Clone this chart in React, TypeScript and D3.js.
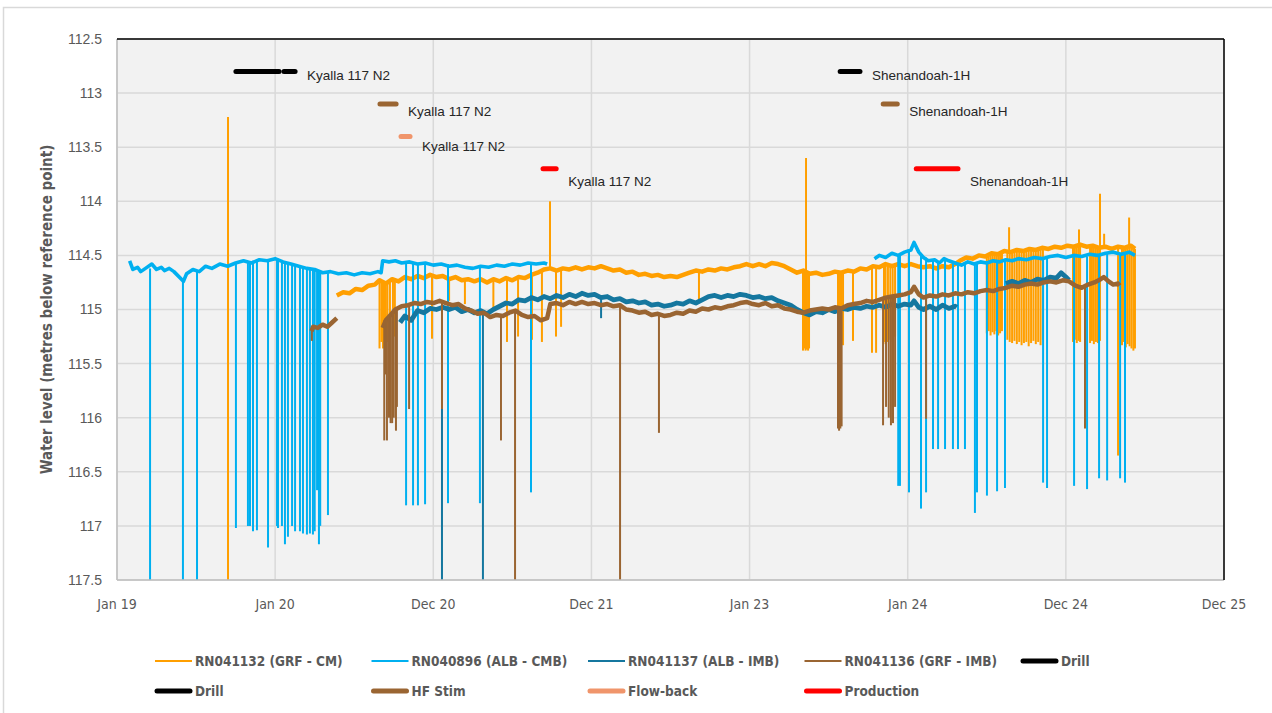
import React from 'react';
import * as d3 from 'd3';

type Pt = [number, number];
type Spike = [number, number, number];

// axis ticks
const yTicks = [112.5, 113, 113.5, 114, 114.5, 115, 115.5, 116, 116.5, 117, 117.5];
const xTickYears = [2019, 2020, 2021, 2022, 2023, 2024, 2025, 2026];
const xTickLabels = ['Jan 19', 'Jan 20', 'Dec 20', 'Dec 21', 'Jan 23', 'Jan 24', 'Dec 24', 'Dec 25'];

// RN041132 (GRF - CM)  [decimal year, m below ref]
const rn041132Level: Pt[] = [
  [2020.39, 114.87], [2020.43, 114.84], [2020.47, 114.85], [2020.51, 114.81], [2020.55, 114.82],
  [2020.59, 114.78], [2020.63, 114.77], [2020.66, 114.73], [2020.70, 114.76], [2020.74, 114.72],
  [2020.78, 114.74], [2020.82, 114.70], [2020.86, 114.72], [2020.90, 114.69], [2020.94, 114.71],
  [2020.98, 114.68], [2021.02, 114.70], [2021.06, 114.69], [2021.10, 114.72], [2021.14, 114.70],
  [2021.18, 114.73], [2021.22, 114.72], [2021.26, 114.74], [2021.30, 114.72], [2021.34, 114.75],
  [2021.38, 114.72], [2021.42, 114.74], [2021.46, 114.71], [2021.50, 114.73], [2021.54, 114.70],
  [2021.58, 114.71], [2021.62, 114.68], [2021.66, 114.66], [2021.70, 114.63], [2021.74, 114.62],
  [2021.78, 114.64], [2021.82, 114.62], [2021.86, 114.63], [2021.90, 114.61], [2021.94, 114.63],
  [2021.98, 114.61], [2022.02, 114.62], [2022.06, 114.60], [2022.10, 114.62], [2022.14, 114.64],
  [2022.18, 114.63], [2022.22, 114.66], [2022.26, 114.65], [2022.30, 114.68], [2022.34, 114.67],
  [2022.38, 114.69], [2022.42, 114.68], [2022.46, 114.70], [2022.50, 114.69], [2022.54, 114.70],
  [2022.58, 114.68], [2022.62, 114.66], [2022.66, 114.64], [2022.70, 114.65], [2022.74, 114.63],
  [2022.78, 114.64], [2022.82, 114.62], [2022.86, 114.63], [2022.90, 114.61], [2022.94, 114.60],
  [2022.98, 114.58], [2023.02, 114.60], [2023.06, 114.58], [2023.10, 114.60], [2023.14, 114.57],
  [2023.18, 114.58], [2023.22, 114.60], [2023.26, 114.63], [2023.30, 114.66], [2023.34, 114.64],
  [2023.38, 114.67], [2023.42, 114.66], [2023.46, 114.68], [2023.50, 114.67], [2023.54, 114.65],
  [2023.58, 114.66], [2023.62, 114.64], [2023.66, 114.65], [2023.70, 114.62], [2023.74, 114.63],
  [2023.78, 114.60], [2023.82, 114.61], [2023.86, 114.58], [2023.90, 114.60], [2023.94, 114.58],
  [2023.98, 114.60], [2024.02, 114.58], [2024.06, 114.60], [2024.10, 114.61], [2024.14, 114.60],
  [2024.18, 114.62], [2024.22, 114.60], [2024.26, 114.61], [2024.30, 114.58], [2024.33, 114.55],
  [2024.37, 114.52], [2024.41, 114.53], [2024.45, 114.50], [2024.49, 114.51], [2024.53, 114.48],
  [2024.57, 114.49], [2024.61, 114.46], [2024.65, 114.47], [2024.69, 114.45], [2024.73, 114.46],
  [2024.77, 114.44], [2024.81, 114.45], [2024.85, 114.43], [2024.89, 114.44], [2024.93, 114.42],
  [2024.97, 114.43], [2025.01, 114.41], [2025.05, 114.42], [2025.09, 114.40], [2025.13, 114.42],
  [2025.17, 114.41], [2025.21, 114.43], [2025.25, 114.42], [2025.29, 114.44], [2025.33, 114.42],
  [2025.37, 114.43], [2025.41, 114.41], [2025.437, 114.44],
];
// [year, from, to] short excursions
const rn041132Spikes: Spike[] = [
  [2019.702, 113.22, 118.0],
  [2020.66, 114.75, 115.36], [2020.672, 114.74, 115.30], [2020.682, 114.73, 115.36], [2020.69, 114.74, 115.33],
  [2020.70, 114.75, 115.36], [2020.71, 114.76, 115.30], [2020.726, 114.74, 115.20], [2020.745, 114.72, 115.20],
  [2020.757, 114.73, 115.25], [2020.992, 114.69, 115.27], [2021.10, 114.72, 114.92], [2021.20, 114.73, 114.95],
  [2021.38, 114.72, 115.00], [2021.466, 114.71, 115.30], [2021.536, 114.72, 115.25], [2021.624, 114.68, 115.28],
  [2021.687, 114.64, 115.30], [2021.738, 114.62, 114.00], [2021.776, 114.64, 115.25], [2021.808, 114.62, 115.16],
  [2022.68, 114.65, 114.92],
  [2023.338, 114.64, 115.38], [2023.346, 114.64, 115.36], [2023.354, 114.64, 115.38], [2023.357, 114.64, 113.60],
  [2023.362, 114.65, 115.37], [2023.370, 114.65, 115.38], [2023.376, 114.65, 115.36],
  [2023.559, 114.65, 115.33], [2023.566, 114.65, 115.31], [2023.574, 114.65, 115.33], [2023.582, 114.65, 115.30],
  [2023.591, 114.64, 115.33], [2023.654, 114.65, 115.29], [2023.774, 114.60, 115.40],
  [2023.80, 114.61, 115.40], [2023.85, 114.58, 115.30], [2023.86, 114.58, 115.32], [2023.875, 114.59, 115.30],
  [2023.89, 114.60, 115.28], [2023.905, 114.60, 115.30], [2023.92, 114.59, 115.25],
  [2024.500, 114.51, 115.22], [2024.512, 114.51, 115.20], [2024.524, 114.50, 115.24], [2024.536, 114.49, 115.21],
  [2024.548, 114.48, 115.23], [2024.560, 114.49, 115.20], [2024.572, 114.49, 115.24], [2024.584, 114.48, 115.22],
  [2024.596, 114.47, 115.20],
  [2024.630, 114.46, 115.28], [2024.641, 114.47, 114.24], [2024.645, 114.47, 115.30], [2024.660, 114.46, 115.31],
  [2024.675, 114.45, 115.29], [2024.690, 114.45, 115.32], [2024.705, 114.45, 115.30], [2024.720, 114.46, 115.33],
  [2024.735, 114.45, 115.31], [2024.750, 114.44, 115.30], [2024.765, 114.44, 115.34], [2024.780, 114.44, 115.31],
  [2024.795, 114.45, 115.29], [2024.810, 114.45, 115.32], [2024.825, 114.44, 115.30], [2024.840, 114.43, 115.33],
  [2024.855, 114.43, 115.28],
  [2025.045, 114.42, 115.30], [2025.057, 114.42, 115.28], [2025.069, 114.41, 115.31], [2025.081, 114.41, 115.29],
  [2025.083, 114.41, 114.26], [2025.090, 114.40, 115.30],
  [2025.153, 114.41, 115.31], [2025.165, 114.41, 115.29], [2025.177, 114.41, 115.32], [2025.190, 114.42, 115.30],
  [2025.203, 114.42, 115.31], [2025.216, 114.43, 115.29], [2025.216, 114.43, 113.93], [2025.242, 114.42, 114.30],
  [2025.330, 114.42, 116.35],
  [2025.355, 114.42, 115.33], [2025.367, 114.43, 115.30], [2025.379, 114.43, 115.35], [2025.391, 114.42, 115.32],
  [2025.400, 114.41, 114.15], [2025.403, 114.41, 115.34], [2025.415, 114.41, 115.36], [2025.427, 114.42, 115.38],
  [2025.437, 114.44, 115.36],
];

// RN040896 (ALB - CMB)
const rn040896LevelA: Pt[] = [
  [2019.08, 114.55], [2019.10, 114.63], [2019.13, 114.61], [2019.15, 114.65], [2019.18, 114.62],
  [2019.22, 114.58], [2019.25, 114.63], [2019.28, 114.61], [2019.30, 114.64], [2019.33, 114.62],
  [2019.36, 114.65], [2019.42, 114.74], [2019.44, 114.67], [2019.48, 114.63], [2019.52, 114.65],
  [2019.56, 114.60], [2019.60, 114.62], [2019.65, 114.58], [2019.70, 114.60], [2019.75, 114.57],
  [2019.80, 114.55], [2019.85, 114.57], [2019.90, 114.54], [2019.95, 114.55], [2020.00, 114.53],
  [2020.05, 114.56], [2020.10, 114.58], [2020.15, 114.60], [2020.20, 114.62], [2020.25, 114.63],
  [2020.30, 114.66], [2020.35, 114.65], [2020.40, 114.67], [2020.45, 114.66], [2020.50, 114.68],
  [2020.55, 114.66], [2020.60, 114.67], [2020.65, 114.65], [2020.67, 114.66], [2020.68, 114.55],
  [2020.72, 114.56], [2020.76, 114.55], [2020.80, 114.57], [2020.85, 114.56], [2020.90, 114.58],
  [2020.95, 114.57], [2021.00, 114.59], [2021.05, 114.58], [2021.10, 114.60], [2021.15, 114.59],
  [2021.20, 114.61], [2021.25, 114.62], [2021.30, 114.60], [2021.35, 114.61], [2021.40, 114.59],
  [2021.45, 114.60], [2021.50, 114.58], [2021.55, 114.59], [2021.60, 114.57], [2021.65, 114.58],
  [2021.70, 114.57], [2021.72, 114.58],
];
const rn040896LevelB: Pt[] = [
  [2023.79, 114.53], [2023.82, 114.50], [2023.86, 114.52], [2023.90, 114.48], [2023.94, 114.50],
  [2023.98, 114.47], [2024.02, 114.45], [2024.04, 114.38], [2024.07, 114.47], [2024.10, 114.52],
  [2024.13, 114.55], [2024.17, 114.54], [2024.20, 114.57], [2024.23, 114.53], [2024.26, 114.55],
  [2024.30, 114.57], [2024.34, 114.59], [2024.38, 114.56], [2024.42, 114.58], [2024.46, 114.56],
  [2024.50, 114.57], [2024.54, 114.55], [2024.58, 114.56], [2024.62, 114.54], [2024.66, 114.55],
  [2024.70, 114.53], [2024.75, 114.54], [2024.80, 114.52], [2024.85, 114.53], [2024.90, 114.51],
  [2024.95, 114.50], [2025.00, 114.52], [2025.05, 114.50], [2025.10, 114.51], [2025.15, 114.49],
  [2025.20, 114.50], [2025.25, 114.48], [2025.30, 114.47], [2025.35, 114.49], [2025.40, 114.47],
  [2025.437, 114.50],
];
const rn040896Spikes: Spike[] = [
  [2019.209, 114.62, 118.0], [2019.417, 114.72, 118.0], [2019.506, 114.64, 118.0],
  [2019.752, 114.57, 117.02], [2019.828, 114.56, 117.00], [2019.841, 114.56, 117.00], [2019.860, 114.55, 117.05],
  [2019.885, 114.56, 117.04], [2019.955, 114.55, 117.20], [2020.012, 114.53, 117.00], [2020.018, 114.53, 117.02],
  [2020.043, 114.55, 117.00], [2020.062, 114.56, 117.17], [2020.081, 114.57, 117.10], [2020.107, 114.58, 117.00],
  [2020.126, 114.58, 117.05], [2020.157, 114.60, 117.05], [2020.176, 114.60, 117.07], [2020.201, 114.61, 117.08],
  [2020.220, 114.62, 117.07], [2020.239, 114.62, 117.08], [2020.250, 114.63, 117.05], [2020.265, 114.63, 116.67],
  [2020.277, 114.64, 117.17], [2020.285, 114.64, 117.00], [2020.334, 114.65, 116.90],
  [2020.828, 114.57, 116.81], [2020.872, 114.56, 116.81], [2020.903, 114.57, 116.81], [2020.948, 114.57, 116.80],
  [2021.093, 114.58, 116.79], [2021.295, 114.61, 116.79], [2021.618, 114.57, 116.69],
  [2023.940, 114.50, 116.63], [2023.951, 114.50, 116.63], [2024.008, 114.46, 116.69], [2024.084, 114.50, 116.84],
  [2024.116, 114.52, 116.69], [2024.160, 114.54, 116.29], [2024.192, 114.56, 116.29], [2024.236, 114.54, 116.29],
  [2024.286, 114.56, 116.29], [2024.318, 114.57, 116.29], [2024.362, 114.58, 116.29], [2024.425, 114.58, 116.88],
  [2024.438, 114.58, 116.69], [2024.501, 114.57, 116.72], [2024.565, 114.56, 116.68], [2024.615, 114.54, 116.65],
  [2024.856, 114.52, 116.60], [2024.881, 114.51, 116.65], [2025.052, 114.50, 116.63], [2025.134, 114.51, 116.66],
  [2025.210, 114.50, 116.56], [2025.261, 114.48, 116.58], [2025.343, 114.48, 116.56], [2025.374, 114.49, 116.60],
];

// RN041137 (ALB - IMB)
const rn041137LevelA: Pt[] = [
  [2020.79, 115.12], [2020.82, 115.06], [2020.86, 115.10], [2020.90, 115.01], [2020.94, 115.03],
  [2020.98, 114.99], [2021.02, 115.00], [2021.06, 114.98], [2021.10, 115.00], [2021.14, 114.98],
  [2021.18, 115.02], [2021.22, 115.00], [2021.26, 115.03], [2021.30, 115.01], [2021.34, 115.04],
  [2021.38, 115.00], [2021.42, 114.97], [2021.46, 114.94], [2021.50, 114.95], [2021.54, 114.91],
  [2021.58, 114.92], [2021.62, 114.89], [2021.66, 114.91], [2021.70, 114.88], [2021.74, 114.90],
  [2021.78, 114.87], [2021.82, 114.89], [2021.86, 114.86], [2021.90, 114.88], [2021.94, 114.85],
  [2021.98, 114.87], [2022.02, 114.86], [2022.06, 114.89], [2022.10, 114.88], [2022.14, 114.91],
  [2022.18, 114.90], [2022.22, 114.93], [2022.26, 114.92], [2022.30, 114.94], [2022.34, 114.93],
  [2022.38, 114.96], [2022.42, 114.95], [2022.46, 114.97], [2022.50, 114.96], [2022.54, 114.94],
  [2022.58, 114.95], [2022.62, 114.92], [2022.66, 114.94], [2022.70, 114.91], [2022.74, 114.88],
  [2022.78, 114.87], [2022.82, 114.89], [2022.86, 114.87], [2022.90, 114.88], [2022.94, 114.86],
  [2022.98, 114.87], [2023.02, 114.89], [2023.06, 114.88], [2023.10, 114.90], [2023.14, 114.89],
  [2023.18, 114.92], [2023.22, 114.94], [2023.26, 114.96], [2023.30, 115.00], [2023.34, 115.03],
  [2023.38, 115.05], [2023.42, 115.02], [2023.46, 115.03], [2023.50, 115.00], [2023.54, 115.02],
  [2023.58, 114.99], [2023.62, 115.00], [2023.66, 114.98], [2023.70, 114.99], [2023.74, 114.97],
  [2023.78, 114.98], [2023.82, 114.96], [2023.86, 114.98], [2023.90, 114.95], [2023.94, 114.97],
  [2023.98, 114.95], [2024.02, 114.96], [2024.04, 114.92], [2024.07, 114.98], [2024.10, 115.00],
  [2024.14, 114.97], [2024.18, 115.00], [2024.22, 114.96], [2024.26, 114.99], [2024.30, 114.97],
  [2024.31, 114.98],
];
const rn041137LevelB: Pt[] = [
  [2024.62, 114.76], [2024.66, 114.74], [2024.70, 114.76], [2024.74, 114.73], [2024.78, 114.75],
  [2024.82, 114.72], [2024.86, 114.73], [2024.90, 114.70], [2024.94, 114.71], [2024.97, 114.66],
  [2025.00, 114.70], [2025.02, 114.73],
];
const rn041137Spikes: Spike[] = [
  [2021.055, 114.98, 118.0], [2021.314, 115.02, 118.0], [2022.061, 114.88, 115.08],
];

// RN041136 (GRF - IMB)
const rn041136LevelA: Pt[] = [
  [2020.23, 115.20], [2020.24, 115.16], [2020.27, 115.17], [2020.30, 115.14], [2020.33, 115.16],
  [2020.36, 115.12], [2020.39, 115.08],
];
const rn041136LevelB: Pt[] = [
  [2020.68, 115.17], [2020.70, 115.10], [2020.73, 115.05], [2020.76, 115.00], [2020.80, 114.97],
  [2020.84, 114.96], [2020.88, 114.94], [2020.92, 114.95], [2020.96, 114.93], [2021.00, 114.94],
  [2021.04, 114.92], [2021.08, 114.94], [2021.12, 114.96], [2021.16, 114.95], [2021.20, 114.99],
  [2021.24, 115.01], [2021.28, 115.04], [2021.32, 115.03], [2021.36, 115.07], [2021.40, 115.05],
  [2021.44, 115.06], [2021.48, 115.03], [2021.52, 115.01], [2021.56, 115.05], [2021.60, 115.07],
  [2021.64, 115.06], [2021.68, 115.10], [2021.72, 115.08], [2021.74, 114.95], [2021.78, 114.94],
  [2021.82, 114.96], [2021.86, 114.93], [2021.90, 114.95], [2021.94, 114.93], [2021.98, 114.95],
  [2022.02, 114.94], [2022.06, 114.96], [2022.10, 114.95], [2022.14, 114.97], [2022.18, 114.96],
  [2022.22, 115.00], [2022.26, 115.01], [2022.30, 115.03], [2022.34, 115.02], [2022.38, 115.05],
  [2022.42, 115.04], [2022.46, 115.06], [2022.50, 115.05], [2022.54, 115.03], [2022.58, 115.04],
  [2022.62, 115.01], [2022.66, 115.02], [2022.70, 114.99], [2022.74, 115.00], [2022.78, 114.98],
  [2022.82, 114.99], [2022.86, 114.97], [2022.90, 114.96], [2022.94, 114.94], [2022.98, 114.93],
  [2023.02, 114.95], [2023.06, 114.96], [2023.10, 114.94], [2023.14, 114.97], [2023.18, 114.96],
  [2023.22, 114.99], [2023.26, 115.00], [2023.30, 115.02], [2023.34, 115.03], [2023.38, 115.01],
  [2023.42, 115.00], [2023.46, 114.99], [2023.50, 115.00], [2023.54, 114.98], [2023.58, 114.99],
  [2023.62, 114.96], [2023.66, 114.95], [2023.70, 114.94], [2023.74, 114.92], [2023.78, 114.93],
  [2023.82, 114.91], [2023.86, 114.89], [2023.90, 114.88], [2023.94, 114.87], [2023.98, 114.86],
  [2024.02, 114.84], [2024.04, 114.79], [2024.07, 114.86], [2024.10, 114.89], [2024.14, 114.87],
  [2024.18, 114.88], [2024.22, 114.86], [2024.26, 114.87], [2024.30, 114.85], [2024.34, 114.86],
  [2024.38, 114.84], [2024.42, 114.85], [2024.46, 114.83], [2024.50, 114.82], [2024.54, 114.83],
  [2024.58, 114.81], [2024.62, 114.80], [2024.66, 114.78], [2024.70, 114.79], [2024.74, 114.77],
  [2024.78, 114.76], [2024.82, 114.77], [2024.86, 114.75], [2024.90, 114.74], [2024.94, 114.75],
  [2024.98, 114.73], [2025.02, 114.74], [2025.06, 114.78], [2025.10, 114.80], [2025.14, 114.77],
  [2025.18, 114.75], [2025.22, 114.72], [2025.24, 114.70], [2025.27, 114.74], [2025.30, 114.77],
  [2025.33, 114.76], [2025.34, 114.78],
];
const rn041136Spikes: Spike[] = [
  [2020.232, 115.18, 115.29],
  [2020.690, 115.10, 116.21], [2020.700, 115.08, 115.60], [2020.707, 115.07, 116.21], [2020.720, 115.06, 116.00],
  [2020.730, 115.05, 116.05], [2020.740, 115.04, 116.05], [2020.750, 115.03, 116.00], [2020.764, 115.00, 116.12],
  [2020.770, 115.00, 115.90], [2020.847, 114.96, 115.92], [2021.055, 114.92, 115.92], [2021.428, 115.05, 116.21],
  [2021.517, 115.02, 118.0], [2022.181, 114.96, 118.0], [2022.427, 115.05, 116.14],
  [2023.559, 114.99, 116.10], [2023.566, 114.99, 116.12], [2023.574, 114.98, 116.10], [2023.582, 114.98, 116.08],
  [2023.844, 114.90, 116.07], [2023.863, 114.89, 115.90], [2023.880, 114.89, 116.00], [2023.894, 114.88, 116.07],
  [2023.907, 114.88, 116.05], [2023.920, 114.87, 115.90], [2024.116, 114.88, 116.01], [2025.121, 114.80, 116.10],
];

// well activities: [activity, well, start, end, show label]
const activityLevels: Record<string, number> = { Drill: 112.8, 'HF Stim': 113.1, 'Flow-back': 113.4, Production: 113.7 };
const activities: [string, string, number, number, boolean][] = [
  ['Drill', 'Kyalla 117 N2', 2019.752, 2020.025, false],
  ['Drill', 'Kyalla 117 N2', 2020.056, 2020.126, true],
  ['HF Stim', 'Kyalla 117 N2', 2020.663, 2020.765, true],
  ['Flow-back', 'Kyalla 117 N2', 2020.796, 2020.853, true],
  ['Production', 'Kyalla 117 N2', 2021.694, 2021.777, true],
  ['Drill', 'Shenandoah-1H', 2023.573, 2023.698, true],
  ['HF Stim', 'Shenandoah-1H', 2023.845, 2023.934, true],
  ['Production', 'Shenandoah-1H', 2024.054, 2024.318, true],
];

const colors: Record<string, string> = {
  'RN041132 (GRF - CM)': '#FF9F00',
  'RN040896 (ALB - CMB)': '#00B0F0',
  'RN041137 (ALB - IMB)': '#15779F',
  'RN041136 (GRF - IMB)': '#9A6532',
  Drill: '#000000',
  'HF Stim': '#9A6532',
  'Flow-back': '#F0956B',
  Production: '#FF0000',
};
const labelDy: Record<string, number> = { Drill: 4, 'HF Stim': 7, 'Flow-back': 10, Production: 12 };

const series = [
  { name: 'RN041132 (GRF - CM)', width: 4.5, parts: [rn041132Level], spikes: rn041132Spikes },
  { name: 'RN040896 (ALB - CMB)', width: 3.6, parts: [rn040896LevelA, rn040896LevelB], spikes: rn040896Spikes },
  { name: 'RN041137 (ALB - IMB)', width: 4.8, parts: [rn041137LevelA, rn041137LevelB], spikes: rn041137Spikes },
  { name: 'RN041136 (GRF - IMB)', width: 4.5, parts: [rn041136LevelA, rn041136LevelB], spikes: rn041136Spikes },
];

const legendRows: [string, boolean][][] = [
  [['RN041132 (GRF - CM)', false], ['RN040896 (ALB - CMB)', false], ['RN041137 (ALB - IMB)', false], ['RN041136 (GRF - IMB)', false], ['Drill', true]],
  [['Drill', true], ['HF Stim', true], ['Flow-back', true], ['Production', true]],
];

const W = 1272;
const H = 713;
const plot = { left: 117, right: 1224, top: 39, bottom: 580 };
const grey = '#595959';
const narrow = "'Liberation Sans Narrow', 'DejaVu Sans Condensed', 'Arial Narrow', sans-serif";
const sans = "'Liberation Sans', Arial, sans-serif";

export default function App() {
  const x = d3.scaleLinear().domain([2019, 2026]).range([plot.left, plot.right]);
  const y = d3.scaleLinear().domain([112.5, 117.5]).range([plot.top, plot.bottom]);
  const line = d3.line<Pt>().x(d => x(d[0])).y(d => y(d[1]));
  const spike = (s: Spike) => line([[s[0], s[1]], [s[0], s[2]]]) || '';

  return (
    <svg width={W} height={H} style={{ position: 'absolute', left: 0, top: 0, background: '#fff' }}>
      <defs>
        <clipPath id="plotClip">
          <rect x={plot.left} y={plot.top} width={plot.right - plot.left} height={plot.bottom - plot.top} />
        </clipPath>
      </defs>
      <rect x={3.5} y={7.5} width={W + 20} height={H + 20} fill="#fff" stroke="#D9D9D9" strokeWidth={1.5} />
      <rect x={plot.left} y={plot.top} width={plot.right - plot.left} height={plot.bottom - plot.top} fill="#F2F2F2" />

      {/* gridlines */}
      {yTicks.map(t => (
        <line key={'gy' + t} x1={plot.left} x2={plot.right} y1={y(t)} y2={y(t)} stroke="#D9D9D9" strokeWidth={1.5} />
      ))}
      {xTickYears.map(t => (
        <line key={'gx' + t} x1={x(t)} x2={x(t)} y1={plot.top} y2={plot.bottom} stroke="#D9D9D9" strokeWidth={1.5} />
      ))}

      {/* water level series */}
      <g clipPath="url(#plotClip)" fill="none" strokeLinejoin="round">
        {series.map(s => (
          <g key={s.name} stroke={colors[s.name]} strokeWidth={2}>
            {s.parts.map((p, i) => <path key={i} d={line(p) || ''} strokeWidth={s.width} />)}
            {s.spikes.map((sp, i) => <path key={'s' + i} d={spike(sp)} />)}
          </g>
        ))}
      </g>

      {/* axis lines */}
      <line x1={plot.left} x2={plot.left} y1={plot.top} y2={plot.bottom} stroke="#BFBFBF" strokeWidth={1.5} />
      <line x1={plot.left} x2={plot.right} y1={plot.bottom} y2={plot.bottom} stroke="#BFBFBF" strokeWidth={1.5} />
      <line x1={plot.left} x2={plot.right} y1={plot.top} y2={plot.top} stroke="#000" strokeWidth={1.5} />
      <line x1={plot.right} x2={plot.right} y1={plot.top} y2={plot.bottom} stroke="#000" strokeWidth={1.5} />

      {/* activities */}
      <g strokeLinecap="round" strokeWidth={5}>
        {activities.map(([act, well, a, b, lab], i) => (
          <g key={'a' + i}>
            <line x1={x(a)} x2={x(b)} y1={y(activityLevels[act])} y2={y(activityLevels[act])} stroke={colors[act]} />
            {lab && (
              <text x={x(b) + 12} y={y(activityLevels[act]) + labelDy[act]} dy="0.35em" fontFamily={sans}
                fontSize={13.5} fill="#262626" stroke="none">{well}</text>
            )}
          </g>
        ))}
      </g>

      {/* y axis */}
      {yTicks.map(t => (
        <text key={'yt' + t} x={102} y={y(t)} dy="0.35em" textAnchor="end" fontFamily={sans} fontSize={14} fill={grey}>{t}</text>
      ))}
      <text transform={`translate(47,${(plot.top + plot.bottom) / 2}) rotate(-90)`} textAnchor="middle" dy="0.35em"
        fontFamily={narrow} fontWeight="bold" fontSize={15} fill={grey}>
        Water level (metres below reference point)
      </text>

      {/* x axis */}
      {xTickYears.map((t, i) => (
        <text key={'xt' + t} x={x(t)} y={604} dy="0.35em" textAnchor="middle" fontFamily={narrow} fontSize={14} fill={grey}>
          {xTickLabels[i]}
        </text>
      ))}

      {/* legend */}
      {legendRows.map((row, r) => (
        <g key={'lr' + r}>
          {row.map(([name, thick], c) => {
            const lx = 155 + c * 216.5;
            const ly = 661 + r * 30;
            return (
              <g key={name + c}>
                <line x1={lx + (thick ? 2 : 0)} x2={lx + (thick ? 35 : 37)} y1={ly} y2={ly} stroke={colors[name]}
                  strokeWidth={thick ? 5 : 2} strokeLinecap={thick ? 'round' : 'butt'} />
                <text x={lx + 40} y={ly} dy="0.35em" fontFamily={narrow} fontWeight="bold" fontSize={13.5} fill={grey}>{name}</text>
              </g>
            );
          })}
        </g>
      ))}
    </svg>
  );
}
